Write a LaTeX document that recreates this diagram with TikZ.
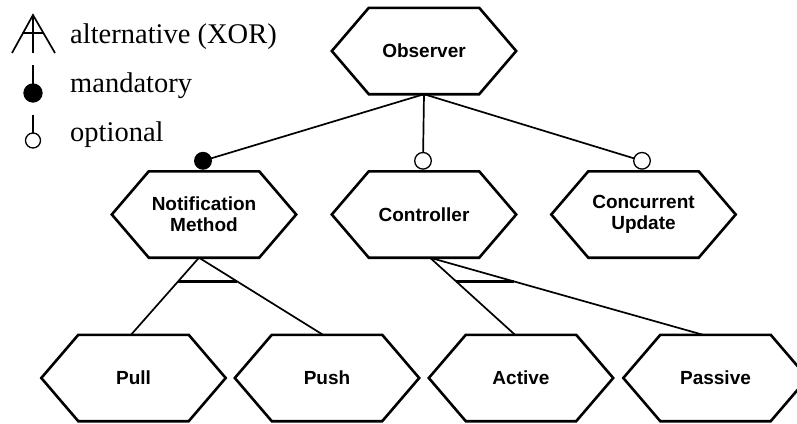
\documentclass[tikz,border=0pt]{standalone}
\usepackage{fontspec}
\setmainfont{Liberation Serif}
\setsansfont{Liberation Sans}
\usetikzlibrary{calc}
\tikzset{
  feat/.style={minimum width=110pt, minimum height=86pt, inner sep=0pt, align=center,
    font=\fontsize{19}{21}\selectfont\sffamily\bfseries},
  hexline/.style={line width=2.6pt, line join=miter},
  conn/.style={line width=1.7pt},
  bar/.style={line width=3pt},
  mand/.style={fill=black, draw=black, line width=1.3pt},
  opt/.style={fill=white, draw=black, line width=1.3pt},
  legtext/.style={anchor=base west, inner sep=0pt, font=\fontsize{28.5}{30}\selectfont}
}
\newcommand{\hexof}[1]{\draw[hexline] (#1.north west) -- (#1.north east) -- ([xshift=37pt]#1.east) -- (#1.south east) -- (#1.south west) -- ([xshift=-37pt]#1.west) -- cycle;}
\begin{document}
\begin{tikzpicture}[x=1pt,y=-1pt]
\useasboundingbox (0,0) rectangle (797,423);
% legend
\coordinate (xa) at (33,15);
\coordinate (xl) at (12,53);
\coordinate (xr) at (55,53);
\coordinate (xv) at (33,53);
\draw[conn, line join=miter] (xl) -- (xa) -- (xr);
\draw[conn] (xa) -- (xv);
\draw[conn, line width=2.2pt] ($(xa)!0.47!(xl)$) -- ($(xa)!0.47!(xr)$);
\node[legtext] (lx) at (70,43) {alternative (XOR)};
\coordinate (m1) at (33,65);
\coordinate (m2) at (33,85);
\draw[conn] (m1) -- (m2);
\fill[mand] (33,93) circle (9);
\node[legtext] (lm) at (70,92) {mandatory};
\coordinate (o1) at (33,115);
\coordinate (o2) at (33,133);
\draw[conn] (o1) -- (o2);
\draw[opt] (33,140.5) circle (7.5);
\node[legtext] (lo) at (70,141) {optional};
% features
\node[feat] (obs) at (424,51) {Observer};
\node[feat] (notif) at (204,214.5) {Notification\\Method};
\node[feat] (ctrl) at (424,214.5) {Controller};
\node[feat] (conc) at (643.5,214.5) {Concurrent\\Update};
\node[feat] (pull) at (133.5,378) {Pull};
\node[feat] (push) at (327,378) {Push};
\node[feat] (act) at (521,378) {Active};
\node[feat] (pas) at (715.5,378) {Passive};
\foreach \n in {obs,notif,ctrl,conc,pull,push,act,pas} {\hexof{\n}}
% top level connectors
\coordinate (cn) at ($(notif.north)+(-1,-10.5)$);
\coordinate (cc) at ($(ctrl.north)+(-1,-10.5)$);
\coordinate (cu) at ($(conc.north)+(-1.5,-10.5)$);
\draw[conn] (obs.south) -- (cn);
\draw[conn] (obs.south) -- (cc);
\draw[conn] (obs.south) -- (cu);
\fill[mand] (cn) circle (8.3);
\draw[opt] (cc) circle (8.3);
\draw[opt] (cu) circle (8.3);
% alternative groups
\coordinate (na) at ($(notif.south)+(-5,0)$);
\coordinate (pt) at ($(pull.north)+(-2.5,0)$);
\coordinate (ht) at ($(push.north)+(-4,0)$);
\draw[conn] (na) -- (pt);
\draw[conn] (na) -- (ht);
\draw[bar] ($(na)!0.3077!(pt)$) -- ($(na)!0.3077!(ht)$);
\coordinate (ca) at ($(ctrl.south)+(6,0)$);
\coordinate (at) at ($(act.north)+(-6,0)$);
\coordinate (st) at ($(pas.north)+(-12.5,0)$);
\draw[conn] (ca) -- (at);
\draw[conn] (ca) -- (st);
\draw[bar] ($(ca)!0.3077!(at)$) -- ($(ca)!0.3077!(st)$);
\end{tikzpicture}
\end{document}
